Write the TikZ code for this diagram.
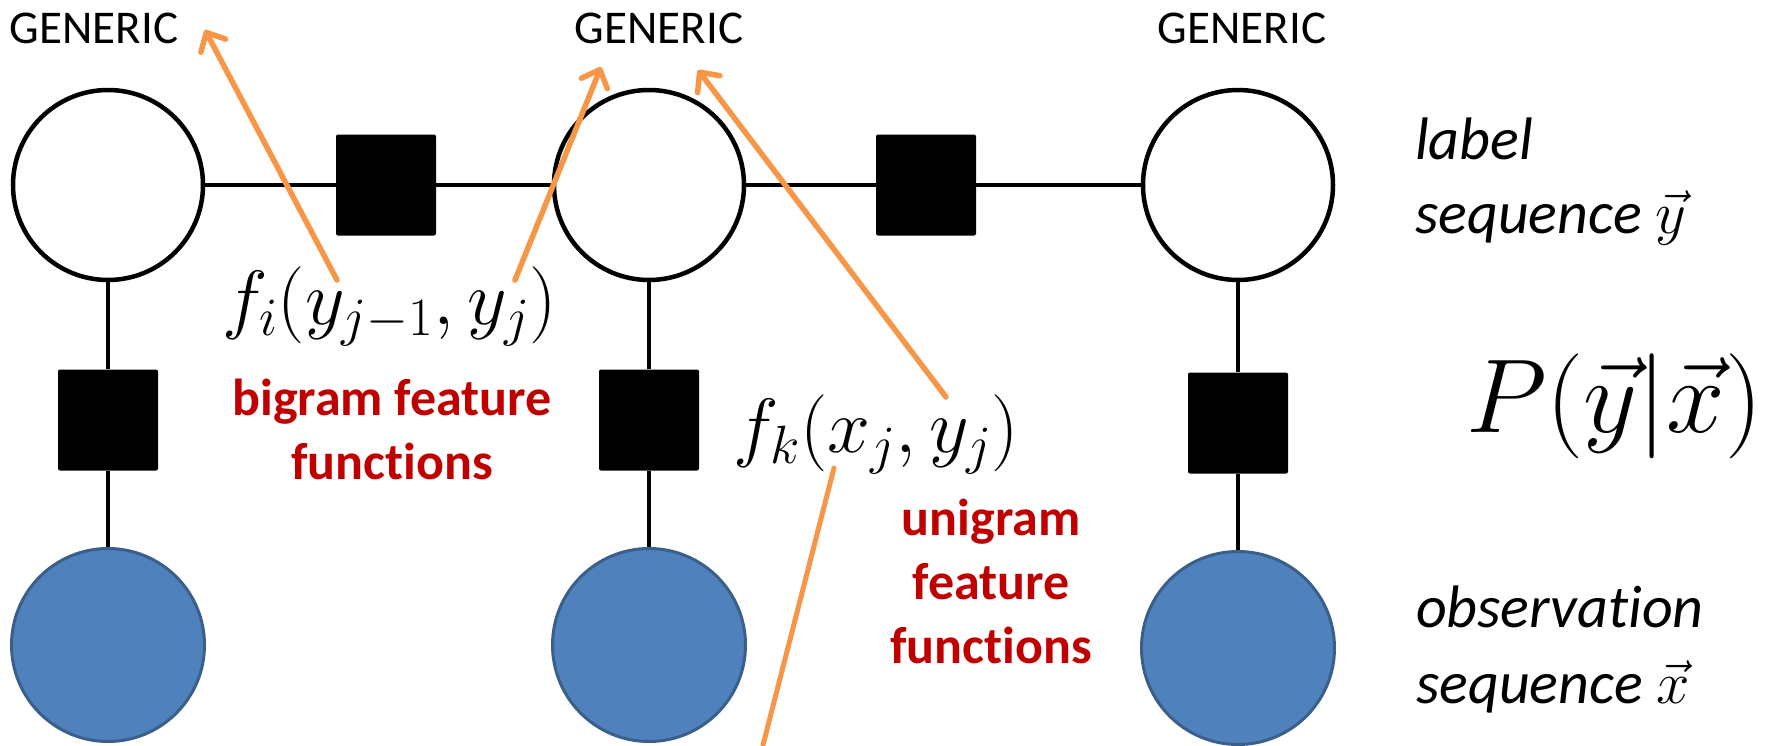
\RequirePackage{fix-cm}
\documentclass[tikz,border=0pt]{standalone}
\usepackage[no-math]{fontspec}
\setmainfont{Carlito}[Ligatures=NoCommon]
\usetikzlibrary{arrows.meta}
\definecolor{orng}{HTML}{F79646}
\definecolor{darkred}{HTML}{C00000}
\definecolor{obsfill}{HTML}{4F81BD}
\definecolor{obsdraw}{HTML}{3A5F8B}
\tikzset{
 hidden/.style={circle, draw=black, line width=4.5pt, fill=white, minimum size=190pt, inner sep=0pt},
 observed/.style={circle, draw=obsdraw, line width=3pt, fill=obsfill, minimum size=193pt, inner sep=0pt},
 factor/.style={rectangle, fill=black, rounded corners=2pt, minimum width=100pt, minimum height=101pt, inner sep=0pt},
 edge/.style={line width=4pt, draw=black},
 pointer/.style={line width=5.5pt, draw=orng, line cap=round, -{Straight Barb[length=15pt,width=28pt,round]}},
 plainptr/.style={line width=5pt, draw=orng, line cap=round},
 generic/.style={font=\fontsize{47}{56}\selectfont, anchor=base, inner sep=0pt},
 fname/.style={font=\fontsize{52}{62}\selectfont\bfseries, text=darkred, anchor=base, inner sep=0pt},
 side/.style={font=\fontsize{60}{72}\selectfont\itshape, anchor=base west, inner sep=0pt},
 mathlbl/.style={font=\fontsize{77}{86}\selectfont, anchor=base west, inner sep=0pt},
 bigmath/.style={font=\fontsize{105}{120}\selectfont, anchor=base west, inner sep=0pt},
}
\begin{document}
\begin{tikzpicture}[x=1pt,y=-1pt]
\useasboundingbox (0,0) rectangle (1783,745);
% hidden label nodes
\node[hidden] (h1) at (108,185) {};
\node[hidden] (h2) at (649,185) {};
\node[hidden] (h3) at (1238,185) {};
% observation nodes
\node[observed] (o1) at (108,645) {};
\node[observed] (o2) at (649,645) {};
\node[observed] (o3) at (1238,648) {};
% factor nodes
\node[factor] (t1) at (386,185) {};
\node[factor] (t2) at (926,185) {};
\node[factor] (u1) at (108,420) {};
\node[factor] (u2) at (649,420) {};
\node[factor] (u3) at (1238,423) {};
% edges
\draw[edge] (h1) -- (t1);
\draw[edge] (t1) -- (h2);
\draw[edge] (h2) -- (t2);
\draw[edge] (t2) -- (h3);
\draw[edge] (h1) -- (u1);
\draw[edge] (u1) -- (o1);
\draw[edge] (h2) -- (u2);
\draw[edge] (u2) -- (o2);
\draw[edge] (h3) -- (u3);
\draw[edge] (u3) -- (o3);
% texts
\node[generic] (g1) at (94,43) {GENERIC};
\node[generic] (g2) at (659,43) {GENERIC};
\node[generic] (g3) at (1242,43) {GENERIC};
\node[mathlbl] (fi) at (222,324) {$f_i(y_{j-1},y_j)$};
\node[mathlbl] (fk) at (733,452) {$f_k(x_j,y_j)$};
\node[bigmath] (pyx) at (1466,432) {$P(\vec{y}|\vec{x})$};
\node[fname] (bg1) at (392,415) {bigram feature};
\node[fname] (bg2) at (392,479) {functions};
\node[fname] (ug1) at (991,535) {unigram};
\node[fname] (ug2) at (991,599) {feature};
\node[fname] (ug3) at (991,663) {functions};
\node[side] (ls1) at (1415,159) {label};
\node[side] (ls2) at (1415,233) {sequence $\vec{y}$};
\node[side] (os1) at (1416,627) {observation};
\node[side] (os2) at (1416,703) {sequence $\vec{x}$};
% orange pointers
\coordinate (a1s) at (337,280); \coordinate (a1e) at (205,30);
\coordinate (a2s) at (515,280); \coordinate (a2e) at (601,67);
\coordinate (a3s) at (946,397); \coordinate (a3e) at (698,70);
\coordinate (a4s) at (834,468); \coordinate (a4e) at (763,745);
\draw[pointer] (a1s) -- (a1e);
\draw[pointer] (a2s) -- (a2e);
\draw[pointer] (a3s) -- (a3e);
\draw[plainptr] (a4s) -- (a4e);
\end{tikzpicture}
\end{document}
